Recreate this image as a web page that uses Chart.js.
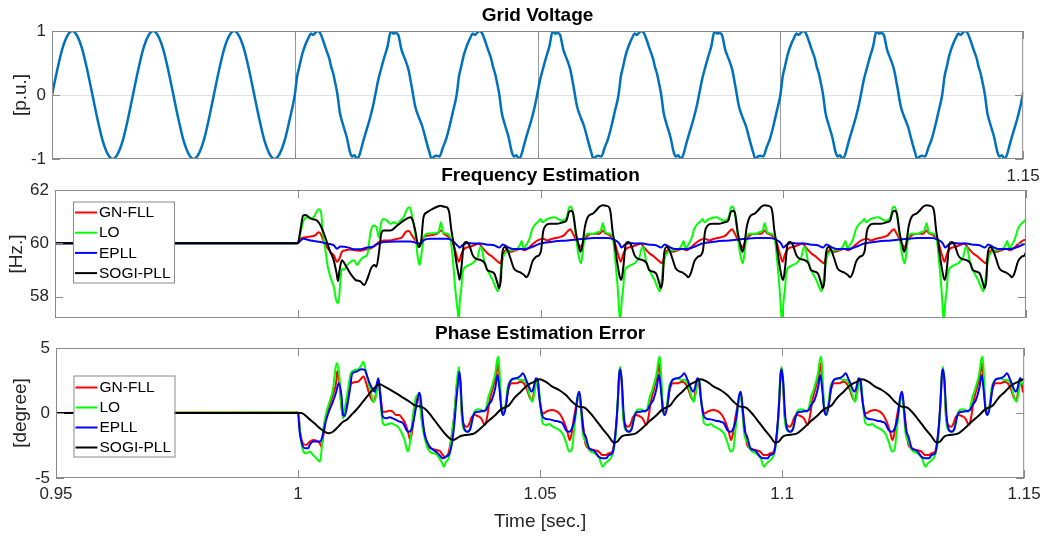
<!DOCTYPE html>
<html>
<head>
<meta charset="utf-8">
<script src="https://cdn.jsdelivr.net/npm/chart.js@4.4.1/dist/chart.umd.min.js"></script>
<style>
html,body{margin:0;padding:0;background:#fff;}
#wrap{position:relative;width:1047px;height:536px;overflow:hidden;background:#fff;}
#wrap canvas{position:absolute;left:0;top:0;}
</style>
</head>
<body>
<div id="wrap">
<canvas id="cV" width="1047" height="536"></canvas>
<canvas id="cF" width="1047" height="536"></canvas>
<canvas id="cP" width="1047" height="536"></canvas>
</div>
<script>
// ---------------- axes / tick labels ----------------
const xTickValues = [0.95, 1.0, 1.05, 1.1, 1.15];
const xLabelsBottom = ['0.95', '1', '1.05', '1.1', '1.15'];
const xLabelsTop = ['', '', '', '', '1.15'];
const xLabelsMid = ['', '', '', '', ''];
const yTicksVolt = [-1, 0, 1];
const yTicksFreq = [58, 60, 62];
const yTicksPhase = [-5, 0, 5];
const seriesNames = ['GN-FLL', 'LO', 'EPLL', 'SOGI-PLL'];

// ---------------- time bases (s) ----------------
const preStart = 0.95;              // steady state before the disturbance
const preTau = [0];                  // ms
const freqPre = [60];
const phasePre = [0];
const periodStarts = [1.0, 1.03333, 1.06667, 1.1, 1.13333]; // repeating pattern starts (s)

// ---------------- Grid voltage ----------------
const sineStarts = [0.95, 0.96667, 0.98333];
const sineTau = [0, 1.042, 2.083, 3.125, 4.167, 5.208, 6.25, 7.292, 8.333, 9.375, 10.417, 11.458, 12.5, 13.542, 14.583, 15.625];
const sineC1 = [0, 0.38, 0.71, 0.92, 1, 0.92, 0.71, 0.38, 0, -0.38, -0.71, -0.92, -1, -0.92, -0.71, -0.38];
const sineC2 = [0, 0.38, 0.71, 0.92, 1, 0.92, 0.71, 0.38, 0, -0.38, -0.71, -0.92, -1, -0.92, -0.71, -0.38];
const sineC3 = [0, 0.38, 0.71, 0.92, 1, 0.92, 0.71, 0.38, 0, -0.38, -0.71, -0.92, -1, -0.92, -0.71, -0.38];

const voltTau = [0.0,0.5,0.9,1.5,2.2,2.8,3.3,3.8,4.2,4.7,5.2,5.8,6.5,7.1,7.5,7.9,8.3,8.8,9.3,10.0,10.7,11.4,11.8,12.3,12.8,13.3,14.1,14.8,15.5,16.2,16.67,17.2,17.6,18.4,19.1,19.8,20.3,20.8,21.3,22.0,22.7,23.4,24.1,24.8,25.6,26.3,27.0,27.7,28.2,28.7,29.2,29.8,30.5,31.2,31.9,32.6];
const voltP1 = [0.00,0.30,0.43,0.63,0.79,0.89,0.96,0.94,0.97,1.00,0.97,0.86,0.70,0.57,0.44,0.34,0.20,0.00,-0.28,-0.48,-0.66,-0.90,-0.96,-0.94,-1.00,-0.94,-0.72,-0.54,-0.36,-0.14,0.04,0.24,0.36,0.58,0.76,1.00,0.96,0.97,0.94,0.70,0.56,0.40,0.12,-0.18,-0.36,-0.50,-0.70,-0.89,-1.00,-0.96,-0.95,-0.96,-0.82,-0.68,-0.48,-0.25];
const voltP2 = [0.00,0.30,0.43,0.63,0.79,0.89,0.96,0.94,0.97,1.00,0.97,0.86,0.70,0.57,0.44,0.34,0.20,0.00,-0.28,-0.48,-0.66,-0.90,-0.96,-0.94,-1.00,-0.94,-0.72,-0.54,-0.36,-0.14,0.04,0.24,0.36,0.58,0.76,1.00,0.96,0.97,0.94,0.70,0.56,0.40,0.12,-0.18,-0.36,-0.50,-0.70,-0.89,-1.00,-0.96,-0.95,-0.96,-0.82,-0.68,-0.48,-0.25];
const voltP3 = [0.00,0.30,0.43,0.63,0.79,0.89,0.96,0.94,0.97,1.00,0.97,0.86,0.70,0.57,0.44,0.34,0.20,0.00,-0.28,-0.48,-0.66,-0.90,-0.96,-0.94,-1.00,-0.94,-0.72,-0.54,-0.36,-0.14,0.04,0.24,0.36,0.58,0.76,1.00,0.96,0.97,0.94,0.70,0.56,0.40,0.12,-0.18,-0.36,-0.50,-0.70,-0.89,-1.00,-0.96,-0.95,-0.96,-0.82,-0.68,-0.48,-0.25];
const voltP4 = [0.00,0.30,0.43,0.63,0.79,0.89,0.96,0.94,0.97,1.00,0.97,0.86,0.70,0.57,0.44,0.34,0.20,0.00,-0.28,-0.48,-0.66,-0.90,-0.96,-0.94,-1.00,-0.94,-0.72,-0.54,-0.36,-0.14,0.04,0.24,0.36,0.58,0.76,1.00,0.96,0.97,0.94,0.70,0.56,0.40,0.12,-0.18,-0.36,-0.50,-0.70,-0.89,-1.00,-0.96,-0.95,-0.96,-0.82,-0.68,-0.48,-0.25];
const voltP5 = [0.00,0.30,0.43,0.63,0.79,0.89,0.96,0.94,0.97,1.00,0.97,0.86,0.70,0.57,0.44,0.34,0.20,0.00,-0.28,-0.48,-0.66,-0.90,-0.96,-0.94,-1.00,-0.94,-0.72,-0.54,-0.36,-0.14,0.04];

// ---------------- Frequency estimation [Hz] ----------------
// SOGI-PLL
const sogiFreqTau1 = [0,0.55,1.1,1.6,2.3,3.0,4.0,4.7,5.4,6.0,6.7,7.4,8.0,8.3,8.6,9.1,9.8,10.8,11.9,12.9,13.7,14.4,15.1,15.8,16.2,16.7,17.2,17.7,19.1,20.5,21.8,23.2,23.7,24.2,24.9,25.4,25.9,26.6,27.7,28.7,29.4,30.2,30.7,31.2,31.6,32.1,32.7,33.2];
const sogiFreqP1 = [60.00,60.49,61.04,61.06,60.98,60.91,60.85,60.67,60.36,60.05,59.68,59.37,58.88,58.59,58.99,59.37,59.19,58.88,58.63,58.57,58.44,58.70,59.06,59.19,59.12,59.62,60.36,60.48,60.48,60.67,60.85,60.98,60.85,60.48,59.86,60.05,60.98,61.16,61.28,61.37,61.41,61.37,61.35,61.16,60.55,60.00,59.25,58.75];
const sogiFreqTau = [0.0,0.4,0.9,1.4,2.0,2.7,3.3,4.4,5.2,5.7,7.1,7.8,8.1,8.5,8.8,9.3,9.9,10.5,11.2,12.6,13.3,13.8,14.3,15.0,15.7,16.4,16.8,17.2,17.8,18.6,20.0,21.3,22.0,22.5,23.0,23.4,24.0,24.6,24.9,25.3,25.8,26.4,27.5,28.2,28.8,29.5,30.2,30.8,31.1,31.5,31.9,32.4,33.0];
const sogiFreqP2 = [58.63,59.12,59.99,60.05,59.93,59.56,59.43,59.37,59.25,59.00,58.88,58.51,58.32,58.63,59.62,59.86,59.74,59.43,59.06,58.90,58.81,58.73,58.88,59.31,59.49,59.56,59.74,60.42,60.67,60.73,60.73,60.79,60.85,61.16,61.22,61.12,60.36,59.86,59.68,59.93,60.60,60.98,61.12,61.25,61.37,61.43,61.41,61.35,61.16,60.48,60.05,59.37,58.75];
const sogiFreqP3 = [58.63,59.12,59.99,60.05,59.93,59.56,59.43,59.37,59.25,59.00,58.88,58.51,58.32,58.63,59.62,59.86,59.74,59.43,59.06,58.90,58.81,58.73,58.88,59.31,59.49,59.56,59.74,60.42,60.67,60.73,60.73,60.79,60.85,61.16,61.22,61.12,60.36,59.86,59.68,59.93,60.60,60.98,61.12,61.25,61.37,61.43,61.41,61.35,61.16,60.48,60.05,59.37,58.75];
const sogiFreqP4 = [58.63,59.12,59.99,60.05,59.93,59.56,59.43,59.37,59.25,59.00,58.88,58.51,58.32,58.63,59.62,59.86,59.74,59.43,59.06,58.90,58.81,58.73,58.88,59.31,59.49,59.56,59.74,60.42,60.67,60.73,60.73,60.79,60.85,61.16,61.22,61.12,60.36,59.86,59.68,59.93,60.60,60.98,61.12,61.25,61.37,61.43,61.41,61.35,61.16,60.48,60.05,59.37,58.75];
const sogiFreqP5 = [58.63,59.12,59.99,60.05,59.93,59.56,59.43,59.37,59.25,59.00,58.88,58.51,58.32,58.63,59.62,59.86,59.74,59.43,59.06,58.90,58.81,58.73,58.88,59.31,59.49,59.56,59.74];
// LO
const loFreqTau1 = [0,0.5,1.2,1.9,2.6,3.3,3.8,4.3,4.8,5.2,5.7,6.2,6.7,7.4,8.1,8.4,8.8,9.1,9.5,10.2,11.6,12.2,12.9,13.6,14.3,15.0,15.6,16.2,16.7,17.2,17.7,18.4,19.1,19.8,20.5,21.1,21.8,22.5,23.1,23.6,24.3,24.7,25.1,25.4,26.0,26.6,28.0,29.0,29.5,29.9,30.7,31.4,31.9,32.4,32.9,33.2];
const loFreqP1 = [60.00,60.36,60.85,60.98,60.91,60.98,61.16,61.28,61.16,60.36,59.74,59.12,58.75,58.38,57.77,57.77,58.63,59.06,59.00,59.19,59.37,59.19,59.37,59.49,59.56,60.42,60.67,60.61,60.23,60.79,60.91,60.85,60.73,60.79,60.73,60.85,60.98,61.28,61.35,60.98,60.23,59.49,59.19,59.49,60.23,60.36,60.38,60.42,60.79,60.42,60.36,60.23,59.49,58.38,57.52,57.10];
const loFreqTau = [0.0,0.4,0.6,1.3,2.0,2.7,3.0,3.7,4.3,4.6,5.1,5.9,6.8,7.5,7.9,8.2,8.6,9.3,10.6,11.9,12.5,12.8,13.2,13.7,14.4,15.0,15.7,16.4,16.7,17.1,18.0,19.6,20.3,21.1,21.6,22.1,22.6,23.0,23.5,24.0,24.5,25.0,25.3,25.7,26.4,27.8,28.4,29.1,29.5,30.0,30.9,31.6,32.0,32.6,32.9,33.1];
const loFreqP2 = [57.70,58.38,58.88,59.12,59.19,59.25,59.31,59.47,59.86,59.80,59.31,58.94,58.63,58.32,58.20,58.44,59.12,59.62,59.74,59.80,59.96,60.09,59.80,59.93,60.17,60.54,60.73,60.85,60.91,60.79,60.91,60.98,60.91,60.85,60.88,60.98,61.35,61.37,60.98,60.23,59.56,59.25,59.56,60.17,60.36,60.36,60.42,60.48,60.75,60.42,60.36,60.17,59.49,58.26,57.40,57.10];
const loFreqP3 = [57.70,58.38,58.88,59.12,59.19,59.25,59.31,59.47,59.86,59.80,59.31,58.94,58.63,58.32,58.20,58.44,59.12,59.62,59.74,59.80,59.96,60.09,59.80,59.93,60.17,60.54,60.73,60.85,60.91,60.79,60.91,60.98,60.91,60.85,60.88,60.98,61.35,61.37,60.98,60.23,59.56,59.25,59.56,60.17,60.36,60.36,60.42,60.48,60.75,60.42,60.36,60.17,59.49,58.26,57.40,57.10];
const loFreqP4 = [57.70,58.38,58.88,59.12,59.19,59.25,59.31,59.47,59.86,59.80,59.31,58.94,58.63,58.32,58.20,58.44,59.12,59.62,59.74,59.80,59.96,60.09,59.80,59.93,60.17,60.54,60.73,60.85,60.91,60.79,60.91,60.98,60.91,60.85,60.88,60.98,61.35,61.37,60.98,60.23,59.56,59.25,59.56,60.17,60.36,60.36,60.42,60.48,60.75,60.42,60.36,60.17,59.49,58.26,57.40,57.10];
const loFreqP5 = [57.70,58.38,58.88,59.12,59.19,59.25,59.31,59.47,59.86,59.80,59.31,58.94,58.63,58.32,58.20,58.44,59.12,59.62,59.74,59.80,59.96,60.09,59.80,59.93,60.17,60.54,60.73,60.85,60.91];
// GN-FLL
const gnFreqTau1 = [0,0.5,1.6,2.6,3.6,4.3,4.7,5.4,6.0,6.7,7.4,8.1,8.6,9.1,9.8,10.8,11.9,12.9,13.9,14.9,15.9,16.7,17.7,19.1,20.5,21.5,22.2,22.9,23.5,24.2,24.9,25.4,26.0,27.3,28.7,29.5,30.1,31.1,32.1,32.8,33.2];
const gnFreqP1 = [60.00,60.17,60.23,60.26,60.30,60.42,60.36,60.05,59.86,59.68,59.56,59.31,59.44,59.68,59.74,59.77,59.74,59.72,59.77,59.80,59.93,60.05,60.11,60.11,60.17,60.23,60.42,60.46,60.30,60.11,59.89,60.05,60.23,60.30,60.36,60.48,60.36,60.23,59.93,59.49,59.31];
const gnFreqTau = [0.0,0.3,1.0,2.0,3.0,4.0,4.6,5.8,6.8,7.9,8.4,8.9,9.6,10.6,11.6,12.6,13.3,14.0,15.0,16.1,17.2,18.1,19.1,20.5,21.5,22.2,22.8,23.2,23.9,24.6,25.0,25.5,26.4,27.7,28.8,29.5,30.0,30.9,31.9,32.7,33.2];
const gnFreqP2 = [59.35,59.56,59.80,59.86,59.93,59.99,59.86,59.62,59.49,59.31,59.25,59.56,59.74,59.68,59.74,59.80,59.74,59.80,59.96,60.11,60.17,60.11,60.17,60.23,60.30,60.44,60.53,60.42,60.17,59.93,59.86,60.05,60.30,60.36,60.36,60.48,60.38,60.30,60.05,59.56,59.31];
const gnFreqP3 = [59.35,59.56,59.80,59.86,59.93,59.99,59.86,59.62,59.49,59.31,59.25,59.56,59.74,59.68,59.74,59.80,59.74,59.80,59.96,60.11,60.17,60.11,60.17,60.23,60.30,60.44,60.53,60.42,60.17,59.93,59.86,60.05,60.30,60.36,60.36,60.48,60.38,60.30,60.05,59.56,59.31];
const gnFreqP4 = [59.35,59.56,59.80,59.86,59.93,59.99,59.86,59.62,59.49,59.31,59.25,59.56,59.74,59.68,59.74,59.80,59.74,59.80,59.96,60.11,60.17,60.11,60.17,60.23,60.30,60.44,60.53,60.42,60.17,59.93,59.86,60.05,60.30,60.36,60.36,60.48,60.38,60.30,60.05,59.56,59.31];
const gnFreqP5 = [59.35,59.56,59.80,59.86,59.93,59.99,59.86,59.62,59.49,59.31,59.25,59.56,59.74,59.68,59.74,59.80,59.74,59.80,59.96,60.11,60.17];
// EPLL
const epllFreqTau1 = [0,0.6,1.2,2.6,4.7,6.0,7.4,8.1,8.8,10.5,11.5,12.9,14.3,15.6,16.3,17.7,20.5,23.2,24.6,25.3,25.9,27.3,29.4,30.7,31.8,32.8,33.2];
const epllFreqP1 = [60.00,60.11,60.17,60.11,60.05,59.99,59.93,59.80,59.88,59.84,59.78,59.78,59.84,59.88,59.96,60.05,60.07,60.07,60.01,59.99,60.11,60.17,60.17,60.17,60.11,59.93,59.86];
const epllFreqTau = [0.0,0.6,1.7,3.0,4.4,5.8,7.1,8.2,8.9,9.9,10.9,12.6,14.0,15.4,16.4,17.4,19.5,22.2,25.0,27.7,30.5,31.8,32.9,33.2];
const epllFreqP2 = [59.84,59.93,60.01,59.99,59.99,59.95,59.93,59.84,59.96,59.86,59.79,59.79,59.81,59.90,59.98,60.02,60.07,60.11,60.16,60.20,60.20,60.14,59.99,59.88];
const epllFreqP3 = [59.84,59.93,60.01,59.99,59.99,59.95,59.93,59.84,59.96,59.86,59.79,59.79,59.81,59.90,59.98,60.02,60.07,60.11,60.16,60.20,60.20,60.14,59.99,59.88];
const epllFreqP4 = [59.84,59.93,60.01,59.99,59.99,59.95,59.93,59.84,59.96,59.86,59.79,59.79,59.81,59.90,59.98,60.02,60.07,60.11,60.16,60.20,60.20,60.14,59.99,59.88];
const epllFreqP5 = [59.84,59.93,60.01,59.99,59.99,59.95,59.93,59.84,59.96,59.86,59.79,59.79,59.81,59.90,59.98,60.02];

// ---------------- Phase estimation error [degree] ----------------
// SOGI-PLL
const sogiPhaseTau1 = [0,0.7,1.4,2.4,3.4,4.5,5.5,6.4,7.2,8.3,9.3,10.0,11.0,12.0,13.4,14.8,16.2,16.9,17.9,18.9,20.3,21.7,23.0,24.4,25.4,26.5,27.9,29.2,30.6,32.0,33.0];
const sogiPhaseP1 = [0,0,-0.15,-0.49,-0.79,-1.18,-1.44,-1.56,-1.44,-1.05,-0.67,-0.54,-0.15,0.23,0.87,1.51,2.08,2.21,2.03,1.82,1.51,1.18,0.87,0.54,0.49,0.23,-0.41,-1.05,-1.69,-2.08,-1.90];
const sogiPhaseTau = [0.3,1.7,3.1,4.4,5.8,7.2,8.6,9.3,10.3,11.3,12.7,14.1,15.5,16.5,17.8,19.2,20.6,22.0,23.3,24.7,25.7,26.8,28.2,29.5,30.9,31.9,32.6];
const sogiPhaseP2 = [-1.77,-1.67,-1.56,-1.18,-0.67,-0.23,0.28,0.41,0.62,1.13,1.64,2.15,2.41,2.59,2.41,2.03,1.77,1.38,0.87,0.49,0.44,0.10,-0.54,-1.18,-1.82,-2.28,-2.21];
const sogiPhaseP3 = [-1.77,-1.67,-1.56,-1.18,-0.67,-0.23,0.28,0.41,0.62,1.13,1.64,2.15,2.41,2.59,2.41,2.03,1.77,1.38,0.87,0.49,0.44,0.10,-0.54,-1.18,-1.82,-2.28,-2.21];
const sogiPhaseP4 = [-1.77,-1.67,-1.56,-1.18,-0.67,-0.23,0.28,0.41,0.62,1.13,1.64,2.15,2.41,2.59,2.41,2.03,1.77,1.38,0.87,0.49,0.44,0.10,-0.54,-1.18,-1.82,-2.28,-2.21];
const sogiPhaseP5 = [-1.77,-1.67,-1.56,-1.18,-0.67,-0.23,0.28,0.41,0.62,1.13,1.64,2.15,2.41,2.59,2.41];
// EPLL
const epllPhaseTau1 = [0,0.3,0.7,1.4,2.1,2.4,3.1,4.5,4.8,5.2,5.8,6.5,7.2,7.9,8.4,9.0,9.3,9.6,10.0,10.7,11.2,12.0,13.1,13.8,14.2,14.8,15.3,15.8,16.3,16.6,17.0,17.5,18.2,18.9,19.6,20.3,21.0,21.7,22.4,22.9,23.4,23.9,24.4,24.8,25.0,25.3,25.7,26.1,26.8,27.5,28.5,29.2,29.9,30.6,31.3,31.8,32.3,32.7,33.0];
const epllPhaseP1 = [0,-1.33,-2.20,-2.72,-2.72,-2.46,-2.20,-2.20,-2.08,-1.56,-0.54,0.23,0.87,1.64,2.28,1.26,-0.15,-0.23,0.23,1.77,3.05,3.18,3.36,3.31,2.92,2.28,1.90,1.64,2.28,2.67,1.26,-0.28,-0.41,-0.33,-0.41,-0.54,-0.67,-0.79,-1.31,-1.44,-1.31,-0.54,0.49,1.26,1.56,1.26,-0.28,-1.56,-2.33,-2.72,-2.97,-3.23,-3.49,-3.36,-3.10,-2.33,-0.79,1.00,2.15];
const epllPhaseTau = [0.0,0.2,0.6,1.0,1.7,2.3,2.8,3.2,4.1,4.8,5.5,6.0,6.7,7.4,7.9,8.3,8.7,9.1,9.6,10.1,10.8,11.7,12.6,13.1,13.8,14.5,14.9,15.3,15.8,16.2,16.5,17.1,17.6,18.6,19.6,20.6,21.3,22.0,22.7,23.4,23.9,24.4,24.8,25.2,25.6,26.1,26.8,27.8,28.8,29.5,30.3,30.9,31.6,32.3,32.7,33.0,33.2];
const epllPhaseP2 = [3.18,2.54,-0.03,-1.18,-1.44,-1.18,-0.28,0.03,0.10,0.15,0.23,0.62,1.00,1.90,2.92,1.77,0.23,-0.15,0.49,1.90,2.59,2.67,2.85,3.05,2.54,1.90,1.64,1.90,2.67,2.54,1.26,-0.15,-0.41,-0.49,-0.59,-0.67,-0.79,-1.31,-1.44,-1.05,-0.28,1.26,1.64,0.23,-1.31,-1.82,-2.72,-2.90,-3.36,-3.49,-3.49,-3.23,-3.10,-1.31,0.74,2.92,3.36];
const epllPhaseP3 = [3.18,2.54,-0.03,-1.18,-1.44,-1.18,-0.28,0.03,0.10,0.15,0.23,0.62,1.00,1.90,2.92,1.77,0.23,-0.15,0.49,1.90,2.59,2.67,2.85,3.05,2.54,1.90,1.64,1.90,2.67,2.54,1.26,-0.15,-0.41,-0.49,-0.59,-0.67,-0.79,-1.31,-1.44,-1.05,-0.28,1.26,1.64,0.23,-1.31,-1.82,-2.72,-2.90,-3.36,-3.49,-3.49,-3.23,-3.10,-1.31,0.74,2.92,3.36];
const epllPhaseP4 = [3.18,2.54,-0.03,-1.18,-1.44,-1.18,-0.28,0.03,0.10,0.15,0.23,0.62,1.00,1.90,2.92,1.77,0.23,-0.15,0.49,1.90,2.59,2.67,2.85,3.05,2.54,1.90,1.64,1.90,2.67,2.54,1.26,-0.15,-0.41,-0.49,-0.59,-0.67,-0.79,-1.31,-1.44,-1.05,-0.28,1.26,1.64,0.23,-1.31,-1.82,-2.72,-2.90,-3.36,-3.49,-3.49,-3.23,-3.10,-1.31,0.74,2.92,3.36];
const epllPhaseP5 = [3.18,2.54,-0.03,-1.18,-1.44,-1.18,-0.28,0.03,0.10,0.15,0.23,0.62,1.00,1.90,2.92,1.77,0.23,-0.15,0.49,1.90,2.59,2.67,2.85,3.05,2.54,1.90,1.64,1.90,2.67,2.54];
// LO
const loPhaseTau1 = [0,0.5,1.0,1.7,2.4,3.1,3.8,4.5,4.8,5.2,5.8,6.5,7.2,7.8,8.1,8.6,8.9,9.3,9.6,10.3,10.9,11.7,12.4,13.1,13.5,14.1,14.6,15.1,15.6,16.1,16.5,16.8,17.4,17.9,18.6,19.3,20.0,20.6,21.3,22.0,22.7,23.2,23.7,24.3,24.8,25.2,25.6,26.1,26.8,27.5,28.5,29.2,29.8,30.1,30.6,31.2,31.6,32.3,32.8,33.2];
const loPhaseP1 = [0.03,-1.82,-2.85,-3.10,-2.97,-3.23,-3.49,-3.74,-3.10,-1.31,-0.03,0.87,1.77,3.56,3.82,2.54,0.74,-0.41,0.23,1.77,3.05,3.31,3.36,3.69,3.95,3.05,2.28,1.51,0.87,1.26,2.54,1.90,-0.54,-0.92,-0.85,-0.79,-0.92,-1.05,-1.44,-2.08,-2.97,-2.08,-0.28,1.13,1.38,0.87,-0.79,-1.82,-2.72,-3.05,-3.15,-3.49,-3.87,-4.13,-3.74,-3.36,-2.08,-0.03,2.41,3.51];
const loPhaseTau = [0.0,0.2,0.5,1.0,1.6,2.1,2.5,3.1,3.8,4.5,5.0,5.5,6.0,6.4,6.9,7.4,7.8,8.1,8.4,8.7,9.1,9.5,10.0,10.7,11.7,12.6,13.3,14.0,14.6,15.1,15.5,16.0,16.3,16.7,17.2,17.9,18.6,19.3,20.0,20.6,21.3,22.0,22.7,23.2,23.7,24.3,24.7,25.1,25.5,26.1,26.8,27.9,28.9,29.6,30.1,30.9,31.6,32.2,32.6,32.9,33.2];
const loPhaseP2 = [3.05,2.54,-0.28,-1.31,-1.44,-1.31,-0.79,0.10,0.28,0.23,0.10,0.36,1.26,1.64,2.28,3.05,4.08,4.33,2.54,0.36,-0.15,0.49,2.03,2.49,2.67,2.54,2.54,2.03,1.26,0.87,1.51,2.41,2.28,0.74,-0.79,-0.92,-0.85,-1.05,-1.18,-1.31,-1.56,-2.21,-2.97,-2.85,-1.31,0.74,1.51,0.23,-1.56,-2.21,-2.85,-3.10,-3.49,-4.13,-3.87,-3.62,-3.23,-2.08,-0.03,2.54,3.56];
const loPhaseP3 = [3.05,2.54,-0.28,-1.31,-1.44,-1.31,-0.79,0.10,0.28,0.23,0.10,0.36,1.26,1.64,2.28,3.05,4.08,4.33,2.54,0.36,-0.15,0.49,2.03,2.49,2.67,2.54,2.54,2.03,1.26,0.87,1.51,2.41,2.28,0.74,-0.79,-0.92,-0.85,-1.05,-1.18,-1.31,-1.56,-2.21,-2.97,-2.85,-1.31,0.74,1.51,0.23,-1.56,-2.21,-2.85,-3.10,-3.49,-4.13,-3.87,-3.62,-3.23,-2.08,-0.03,2.54,3.56];
const loPhaseP4 = [3.05,2.54,-0.28,-1.31,-1.44,-1.31,-0.79,0.10,0.28,0.23,0.10,0.36,1.26,1.64,2.28,3.05,4.08,4.33,2.54,0.36,-0.15,0.49,2.03,2.49,2.67,2.54,2.54,2.03,1.26,0.87,1.51,2.41,2.28,0.74,-0.79,-0.92,-0.85,-1.05,-1.18,-1.31,-1.56,-2.21,-2.97,-2.85,-1.31,0.74,1.51,0.23,-1.56,-2.21,-2.85,-3.10,-3.49,-4.13,-3.87,-3.62,-3.23,-2.08,-0.03,2.54,3.56];
const loPhaseP5 = [3.05,2.54,-0.28,-1.31,-1.44,-1.31,-0.79,0.10,0.28,0.23,0.10,0.36,1.26,1.64,2.28,3.05,4.08,4.33,2.54,0.36,-0.15,0.49,2.03,2.49,2.67,2.54,2.54,2.03,1.26,0.87,1.51,2.41,2.28];
// GN-FLL
const gnPhaseTau1 = [0,0.5,1.0,1.7,2.4,3.1,3.8,4.5,4.8,5.2,5.8,6.5,7.2,7.9,8.1,8.6,8.9,9.3,9.6,10.3,11.0,12.4,13.1,13.5,14.1,14.8,15.6,16.2,16.6,17.0,17.5,18.2,18.9,19.6,20.2,20.9,21.5,22.0,22.7,23.2,23.7,24.2,24.8,25.2,25.7,26.3,26.8,27.5,28.5,29.2,29.9,30.2,30.9,31.6,32.3,32.8,33.2];
const gnPhaseP1 = [0.03,-1.59,-2.33,-2.46,-2.21,-2.08,-2.13,-2.33,-2.59,-1.82,-0.28,0.62,1.38,2.41,3.23,2.15,0.74,-0.33,-0.03,1.26,2.28,2.41,2.67,2.80,2.28,1.38,0.87,1.64,2.54,1.51,0.10,0.10,0.18,0.10,-0.15,-0.15,-0.41,-0.67,-1.44,-2.08,-1.05,0.49,1.26,0.62,-0.79,-1.82,-2.59,-2.72,-2.85,-2.90,-3.23,-3.36,-3.23,-2.08,-0.03,2.15,2.80];
const gnPhaseTau = [0.0,0.2,0.5,1.0,1.6,2.1,2.5,3.1,3.8,4.5,5.0,5.3,5.8,6.2,6.9,7.6,7.9,8.3,8.7,9.1,9.6,10.1,10.8,11.7,12.6,13.3,14.0,14.6,15.1,15.5,16.0,16.4,16.8,17.3,18.2,19.2,20.2,20.9,21.6,22.3,22.8,23.2,23.7,24.4,24.8,25.2,25.6,26.1,26.8,27.8,28.8,29.5,30.3,30.9,31.6,32.3,32.7,33.0,33.2];
const gnPhaseP2 = [2.92,2.28,-0.15,-0.92,-1.05,-0.79,-0.33,-0.15,-0.23,-0.41,-0.79,-0.92,-0.15,0.87,1.90,3.05,3.82,2.28,0.36,0.03,0.62,1.77,2.28,2.28,2.41,2.28,1.77,1.13,1.00,1.90,2.41,1.64,0.49,-0.03,0.15,0.23,0.10,-0.15,-0.67,-1.44,-2.08,-1.56,-0.28,1.00,1.51,0.23,-1.05,-2.46,-2.72,-2.85,-2.97,-3.23,-3.23,-3.10,-2.97,-1.31,0.74,2.79,3.36];
const gnPhaseP3 = [2.92,2.28,-0.15,-0.92,-1.05,-0.79,-0.33,-0.15,-0.23,-0.41,-0.79,-0.92,-0.15,0.87,1.90,3.05,3.82,2.28,0.36,0.03,0.62,1.77,2.28,2.28,2.41,2.28,1.77,1.13,1.00,1.90,2.41,1.64,0.49,-0.03,0.15,0.23,0.10,-0.15,-0.67,-1.44,-2.08,-1.56,-0.28,1.00,1.51,0.23,-1.05,-2.46,-2.72,-2.85,-2.97,-3.23,-3.23,-3.10,-2.97,-1.31,0.74,2.79,3.36];
const gnPhaseP4 = [2.92,2.28,-0.15,-0.92,-1.05,-0.79,-0.33,-0.15,-0.23,-0.41,-0.79,-0.92,-0.15,0.87,1.90,3.05,3.82,2.28,0.36,0.03,0.62,1.77,2.28,2.28,2.41,2.28,1.77,1.13,1.00,1.90,2.41,1.64,0.49,-0.03,0.15,0.23,0.10,-0.15,-0.67,-1.44,-2.08,-1.56,-0.28,1.00,1.51,0.23,-1.05,-2.46,-2.72,-2.85,-2.97,-3.23,-3.23,-3.10,-2.97,-1.31,0.74,2.79,3.36];
const gnPhaseP5 = [2.92,2.28,-0.15,-0.92,-1.05,-0.79,-0.33,-0.15,-0.23,-0.41,-0.79,-0.92,-0.15,0.87,1.90,3.05,3.82,2.28,0.36,0.03,0.62,1.77,2.28,2.28,2.41,2.28,1.77,1.13,1.00,1.90,2.41,1.64];

// ---------------- helpers ----------------
function seg(start, tau, vals) { return { start, tau, vals }; }
function build(segs) {
  const out = [];
  segs.forEach(s => {
    const n = Math.min(s.tau.length, s.vals.length);
    for (let i = 0; i < n; i++) out.push({ x: s.start + s.tau[i] / 1000, y: s.vals[i] });
  });
  return out;
}
function periodic(tau1, p1, tau, p2, p3, p4, p5, preVals) {
  return build([
    seg(preStart, preTau, preVals),
    seg(periodStarts[0], tau1, p1),
    seg(periodStarts[1], tau, p2),
    seg(periodStarts[2], tau, p3),
    seg(periodStarts[3], tau, p4),
    seg(periodStarts[4], tau, p5)
  ]);
}

const W = 1047, H = 536;
const FRAME = '#8a8a8a';
const TXT = '#262626';
Chart.defaults.font.family = "'Liberation Sans', Arial, Helvetica, sans-serif";
Chart.defaults.color = TXT;

const decor = {
  id: 'decor',
  beforeDatasetsDraw(chart, args, o) {
    const { ctx, chartArea: a, scales: { x, y } } = chart;
    ctx.save();
    ctx.lineWidth = 1;
    (o.hgrid || []).forEach(v => {
      const py = Math.round(y.getPixelForValue(v)) + 0.5;
      ctx.strokeStyle = o.hgridColor;
      ctx.beginPath(); ctx.moveTo(a.left, py); ctx.lineTo(a.right, py); ctx.stroke();
    });
    (o.vgrid || []).forEach(v => {
      const px = Math.round(x.getPixelForValue(v)) + 0.5;
      ctx.strokeStyle = o.vgridColor;
      ctx.beginPath(); ctx.moveTo(px, a.top); ctx.lineTo(px, a.bottom); ctx.stroke();
    });
    ctx.restore();
  },
  afterDatasetsDraw(chart, args, o) {
    const { ctx, chartArea: a, scales: { x, y } } = chart;
    ctx.save();
    ctx.lineWidth = 1;
    ctx.strokeStyle = FRAME;
    ctx.strokeRect(a.left + 0.5, a.top + 0.5, a.right - a.left - 1, a.bottom - a.top - 1);
    const TL = 8;
    ctx.beginPath();
    xTickValues.forEach(v => {
      const px = Math.round(x.getPixelForValue(v)) + 0.5;
      ctx.moveTo(px, a.bottom); ctx.lineTo(px, a.bottom - TL);
      ctx.moveTo(px, a.top); ctx.lineTo(px, a.top + TL);
    });
    (o.yTicks || []).forEach(v => {
      const py = Math.round(y.getPixelForValue(v)) + 0.5;
      ctx.moveTo(a.left, py); ctx.lineTo(a.left + TL, py);
      ctx.moveTo(a.right, py); ctx.lineTo(a.right - TL, py);
    });
    ctx.stroke();
    if (o.legend) {
      const L = o.legend;
      const lx = a.left + L.dx, ly = a.top + L.dy;
      ctx.fillStyle = '#ffffff';
      ctx.fillRect(lx, ly, L.w, L.h);
      ctx.strokeStyle = FRAME;
      ctx.strokeRect(lx + 0.5, ly + 0.5, L.w, L.h);
      ctx.font = "15.5px 'Liberation Sans', Arial, sans-serif";
      ctx.textBaseline = 'middle';
      ctx.textAlign = 'left';
      chart.data.datasets.forEach((ds, i) => {
        const yy = ly + L.row0 + i * L.rowH;
        ctx.strokeStyle = ds.borderColor;
        ctx.lineWidth = 2;
        ctx.beginPath(); ctx.moveTo(lx + 2, yy); ctx.lineTo(lx + 24, yy); ctx.stroke();
        ctx.fillStyle = '#000';
        ctx.fillText(ds.label, lx + 26, yy + 0.5);
      });
    }
    ctx.restore();
  }
};

function lineDs(label, data, color, order, width) {
  return { label, data, borderColor: color, backgroundColor: color, borderWidth: width, pointRadius: 0,
           cubicInterpolationMode: 'monotone', fill: false, order, borderJoinStyle: 'round', borderCapStyle: 'round' };
}

function makePanel(id, c) {
  const a = c.area;
  return new Chart(document.getElementById(id), {
    type: 'line',
    data: { datasets: c.datasets },
    options: {
      responsive: false, animation: false, events: [],
      layout: { padding: { left: 0, right: W - a.right, top: c.titleY - 11.4, bottom: 0 } },
      plugins: {
        legend: { display: false }, tooltip: { enabled: false },
        title: { display: true, text: c.title, fullSize: false, color: '#000', font: { size: 19, weight: 'bold' },
                 padding: { top: 0, bottom: a.top - c.titleY - 11.4 } },
        decor: c.decor
      },
      scales: {
        x: {
          type: 'linear', min: 0.95, max: 1.15,
          afterBuildTicks: s => { s.ticks = xTickValues.map(v => ({ value: v })); },
          afterFit: s => { s.height = H - a.bottom; },
          grid: { display: false, drawTicks: false }, border: { display: false },
          ticks: { autoSkip: false, maxRotation: 0, minRotation: 0, padding: c.xPad, color: TXT, font: { size: 17 },
                   callback: (v, i) => c.xLabels[i] },
          title: c.xTitle ? { display: true, text: c.xTitle, color: TXT, font: { size: 19 }, padding: { top: 0, bottom: 3 } } : { display: false }
        },
        y: {
          type: 'linear', min: c.yMin, max: c.yMax,
          afterBuildTicks: s => { s.ticks = c.yTicks.map(v => ({ value: v })); },
          afterFit: s => { s.width = a.left; },
          grid: { display: false, drawTicks: false }, border: { display: false },
          ticks: { padding: 6, color: TXT, font: { size: 17 }, callback: v => String(v) },
          title: { display: true, text: c.yTitle, color: TXT, font: { size: 19 }, padding: { top: c.yTitleX - 11.4, bottom: 0 } }
        }
      }
    },
    plugins: [decor]
  });
}

// ---------------- Panel 1: Grid Voltage ----------------
const voltData = build([
  seg(sineStarts[0], sineTau, sineC1), seg(sineStarts[1], sineTau, sineC2), seg(sineStarts[2], sineTau, sineC3),
  seg(periodStarts[0], voltTau, voltP1), seg(periodStarts[1], voltTau, voltP2), seg(periodStarts[2], voltTau, voltP3),
  seg(periodStarts[3], voltTau, voltP4), seg(periodStarts[4], voltTau, voltP5)
]);
makePanel('cV', {
  area: { left: 52, right: 1025, top: 31, bottom: 159 },
  title: 'Grid Voltage', titleY: 15.5,
  yMin: -1, yMax: 1, yTicks: yTicksVolt, yTitle: '[p.u.]', yTitleX: 21,
  xLabels: xLabelsTop, xPad: 7.3,
  datasets: [lineDs('Grid Voltage', voltData, '#0072BD', 0, 2.5)],
  decor: { yTicks: yTicksVolt, hgrid: [0], hgridColor: '#e3e3e3', vgrid: [1.0, 1.05, 1.1], vgridColor: '#9a9a9a' }
});

// ---------------- Panel 2: Frequency Estimation ----------------
makePanel('cF', {
  area: { left: 55, right: 1026, top: 190, bottom: 318 },
  title: 'Frequency Estimation', titleY: 176,
  yMin: 57.2, yMax: 62, yTicks: yTicksFreq, yTitle: '[Hz.]', yTitleX: 17,
  xLabels: xLabelsMid, xPad: 6,
  datasets: [
    lineDs(seriesNames[0], periodic(gnFreqTau1, gnFreqP1, gnFreqTau, gnFreqP2, gnFreqP3, gnFreqP4, gnFreqP5, freqPre), '#ff0000', 3, 2),
    lineDs(seriesNames[1], periodic(loFreqTau1, loFreqP1, loFreqTau, loFreqP2, loFreqP3, loFreqP4, loFreqP5, freqPre), '#00ff00', 2, 2),
    lineDs(seriesNames[2], periodic(epllFreqTau1, epllFreqP1, epllFreqTau, epllFreqP2, epllFreqP3, epllFreqP4, epllFreqP5, freqPre), '#0000ff', 1, 2),
    lineDs(seriesNames[3], periodic(sogiFreqTau1, sogiFreqP1, sogiFreqTau, sogiFreqP2, sogiFreqP3, sogiFreqP4, sogiFreqP5, freqPre), '#000000', 0, 2)
  ],
  decor: { yTicks: yTicksFreq, legend: { dx: 18, dy: 11.5, w: 101, h: 81, row0: 11, rowH: 20.2 } }
});

// ---------------- Panel 3: Phase Estimation Error ----------------
makePanel('cP', {
  area: { left: 56, right: 1026, top: 348, bottom: 478 },
  title: 'Phase Estimation Error', titleY: 334,
  yMin: -5, yMax: 5, yTicks: yTicksPhase, yTitle: '[degree]', yTitleX: 21,
  xLabels: xLabelsBottom, xPad: 6.3, xTitle: 'Time [sec.]',
  datasets: [
    lineDs(seriesNames[0], periodic(gnPhaseTau1, gnPhaseP1, gnPhaseTau, gnPhaseP2, gnPhaseP3, gnPhaseP4, gnPhaseP5, phasePre), '#ff0000', 3, 2),
    lineDs(seriesNames[1], periodic(loPhaseTau1, loPhaseP1, loPhaseTau, loPhaseP2, loPhaseP3, loPhaseP4, loPhaseP5, phasePre), '#00ff00', 2, 2),
    lineDs(seriesNames[2], periodic(epllPhaseTau1, epllPhaseP1, epllPhaseTau, epllPhaseP2, epllPhaseP3, epllPhaseP4, epllPhaseP5, phasePre), '#0000ff', 1, 2),
    lineDs(seriesNames[3], periodic(sogiPhaseTau1, sogiPhaseP1, sogiPhaseTau, sogiPhaseP2, sogiPhaseP3, sogiPhaseP4, sogiPhaseP5, phasePre), '#000000', 0, 2)
  ],
  decor: { yTicks: yTicksPhase, legend: { dx: 17.5, dy: 27.5, w: 101, h: 81, row0: 12, rowH: 20 } }
});
</script>
</body>
</html>
